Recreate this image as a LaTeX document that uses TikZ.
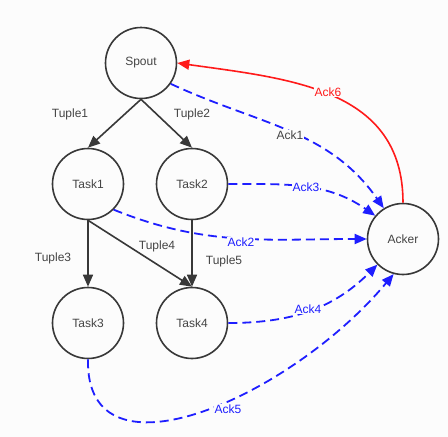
\documentclass[tikz,border=0pt]{standalone}
\usepackage{fontspec}
\setmainfont{Liberation Sans}
\usetikzlibrary{arrows.meta}
\definecolor{bg}{HTML}{FCFCFC}
\definecolor{ink}{HTML}{383838}
\definecolor{txt}{HTML}{444444}
\definecolor{ackblue}{HTML}{1E1EFF}
\definecolor{ackred}{HTML}{FF1A1A}
\tikzset{
  task/.style={circle, draw=ink, line width=1.6pt, minimum size=71pt, inner sep=0pt,
    text=txt, font=\fontsize{12}{14}\selectfont},
  flow/.style={draw=ink, line width=1.6pt, -{Triangle[length=12pt,width=10pt]}},
  ack/.style={draw=ackblue, line width=1.8pt, dash pattern=on 9pt off 5pt,
    -{Triangle[length=12pt,width=10pt,fill=ackblue]}},
  ackr/.style={draw=ackred, line width=1.6pt, -{Triangle[length=12pt,width=10pt,fill=ackred]}},
  lbl/.style={text=txt, font=\fontsize{12}{14}\selectfont, inner sep=0.5pt},
  acklbl/.style={fill=bg, font=\fontsize{12}{14}\selectfont, inner sep=0.5pt},
}
\begin{document}
\begin{tikzpicture}[x=1pt,y=1pt]
\path[fill=bg] (0,-437) rectangle (448,0);
\useasboundingbox (0,-437) rectangle (448,0);

\node[task] (spout) at (141,-63) {Spout};
\node[task] (task1) at (88,-184) {Task1};
\node[task] (task2) at (192,-184) {Task2};
\node[task] (task3) at (88,-323) {Task3};
\node[task] (task4) at (192,-323) {Task4};
\node[task] (acker) at (403,-239) {Acker};

% tuple flows
\draw[flow] (spout.south) -- (task1.north);
\draw[flow] (spout.south) -- (task2.north);
\draw[flow] (task1.south) -- (task3.north);
\draw[flow] (task1.south) -- (task4.north);
\draw[flow] (task2.south) -- (task4.north);

% acks
\draw[ack] (spout.-35) to[out=-25,in=125] (acker.122);
\draw[ack] (task2.east) to[out=0,in=145] (acker.140);
\draw[ack] (task1.-45) to[out=-22,in=180] (acker.west);
\draw[ack] (task4.east) to[out=0,in=-135] (acker.-135);
\draw[ack] (task3.south) .. controls (85,-488) and (290,-398) .. (acker.-105);
\draw[ackr] (acker.north) to[out=90,in=-8,looseness=1.1] (spout.east);

% labels
\node[lbl] (t1) at (70,-114) {Tuple1};
\node[lbl] (t2) at (192,-114) {Tuple2};
\node[lbl] (t3) at (53,-258) {Tuple3};
\node[lbl] (t4) at (157,-246) {Tuple4};
\node[lbl] (t5) at (224,-261) {Tuple5};
\node[acklbl, text=txt] (a1) at (290,-135) {Ack1};
\node[acklbl, text=ackblue] (a2) at (241,-242) {Ack2};
\node[acklbl, text=ackblue] (a3) at (306,-187) {Ack3};
\node[acklbl, text=ackblue] (a4) at (308,-309) {Ack4};
\node[acklbl, text=ackblue] (a5) at (228,-409) {Ack5};
\node[acklbl, text=ackred] (a6) at (328,-92) {Ack6};
\end{tikzpicture}
\end{document}
